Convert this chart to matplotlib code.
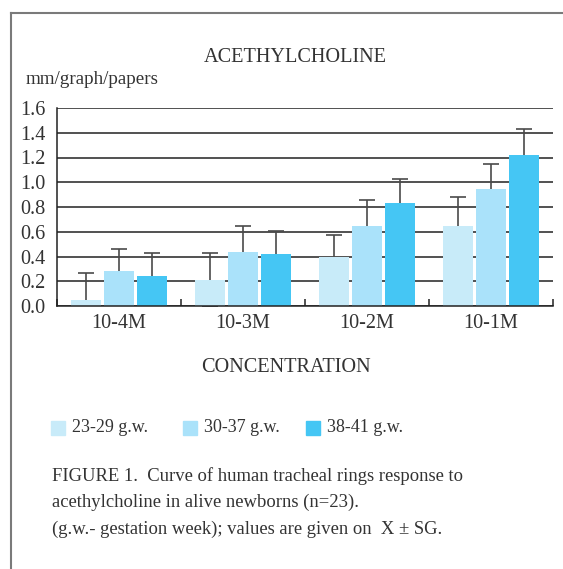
"""Acetylcholine response of tracheal rings, grouped by gestation week."""

import matplotlib
matplotlib.use("Agg")
import matplotlib.pyplot as plt
import numpy as np
from matplotlib.lines import Line2D
from matplotlib.patches import Rectangle

concentrations = ["10-4M", "10-3M", "10-2M", "10-1M"]
groups = ["23-29 g.w.", "30-37 g.w.", "38-41 g.w."]
means_23_29 = [0.05, 0.21, 0.40, 0.65]
means_30_37 = [0.28, 0.44, 0.65, 0.945]
means_38_41 = [0.24, 0.42, 0.83, 1.22]
sd_23_29 = [0.22, 0.22, 0.17, 0.23]
sd_30_37 = [0.18, 0.21, 0.21, 0.205]
sd_38_41 = [0.19, 0.19, 0.20, 0.21]
yticks = [0.0, 0.2, 0.4, 0.6, 0.8, 1.0, 1.2, 1.4, 1.6]

colors = ["#c8ebf9", "#aae2fa", "#45c6f4"]
SERIF = "Liberation Serif"
TEXT = "#333333"

fig = plt.figure(figsize=(5.63, 5.69), dpi=100)
W, H = 563, 569


def fx(px):
    return px / W


def fy(py):
    return 1 - py / H


# panel border (top and left only)
fig.add_artist(Line2D([fx(11), fx(563)], [fy(13), fy(13)], color="#7a7a7a", lw=1.5))
fig.add_artist(Line2D([fx(11), fx(11)], [fy(13), fy(569)], color="#7a7a7a", lw=1.5))

ax = fig.add_axes([fx(57), fy(306), fx(553) - fx(57), fy(108) - fy(306)])

x = np.arange(len(concentrations))
width = 0.24
step = 0.266
series = [(means_23_29, sd_23_29), (means_30_37, sd_30_37), (means_38_41, sd_38_41)]
for i, (m, s) in enumerate(series):
    pos = x + (i - 1) * step
    ax.bar(pos, m, width=width, color=colors[i], zorder=2)
    # symmetric bars drawn behind the bar, so only the upper half shows
    ax.errorbar(pos, m, yerr=s, fmt="none", ecolor="#4a4a4a",
                elinewidth=1.2, capsize=6, capthick=1.2, zorder=1.5)

ax.set_xlim(-0.5, len(concentrations) - 0.5)
ax.set_ylim(0, 1.6)
ax.set_yticks(yticks)
ax.set_yticklabels([f"{v:.1f}" for v in yticks], fontfamily=SERIF, fontsize=14.6, color=TEXT)
ax.yaxis.grid(True, color="#222222", lw=1.1, zorder=0)
ax.set_axisbelow(True)
ax.tick_params(axis="y", length=0, pad=8.5)

ax.set_xticks(np.arange(len(concentrations) + 1) - 0.5, minor=False)
ax.set_xticklabels([])
ax.tick_params(axis="x", direction="in", length=5, color="#222222", width=1.1)
ax.set_xticks(x, minor=True)
ax.set_xticklabels(concentrations, minor=True, fontfamily=SERIF, fontsize=14.6, color=TEXT)
ax.tick_params(axis="x", which="minor", length=0, pad=6)

for side in ["top", "right"]:
    ax.spines[side].set_visible(False)
for side in ["left", "bottom"]:
    ax.spines[side].set_color("#222222")
    ax.spines[side].set_linewidth(1.1)

fig.text(fx(295), fy(58), "ACETHYLCHOLINE", ha="center", va="center",
         fontfamily=SERIF, fontsize=14.6, color=TEXT)
fig.text(fx(26), fy(79), "mm/graph/papers", ha="left", va="center",
         fontfamily=SERIF, fontsize=13.7, color=TEXT)
fig.text(fx(286), fy(367), "CONCENTRATION", ha="center", va="center",
         fontfamily=SERIF, fontsize=14.6, color=TEXT)

# legend row
for i, (sq_x, tx) in enumerate([(51, 72), (183, 204), (306, 327)]):
    fig.add_artist(Rectangle((fx(sq_x), fy(435)), fx(14), 14 / H, color=colors[i]))
    fig.text(fx(tx), fy(428), groups[i], ha="left", va="center",
             fontfamily=SERIF, fontsize=13, color=TEXT)

caption = [
    "FIGURE 1.  Curve of human tracheal rings response to",
    "acethylcholine in alive newborns (n=23).",
    "(g.w.- gestation week); values are given on  X \u00b1 SG.",
]
for k, line in enumerate(caption):
    fig.text(fx(52), fy(476 + 26.5 * k), line, ha="left", va="center",
             fontfamily=SERIF, fontsize=13.4, color=TEXT)

fig.savefig("out.png", dpi=100)
